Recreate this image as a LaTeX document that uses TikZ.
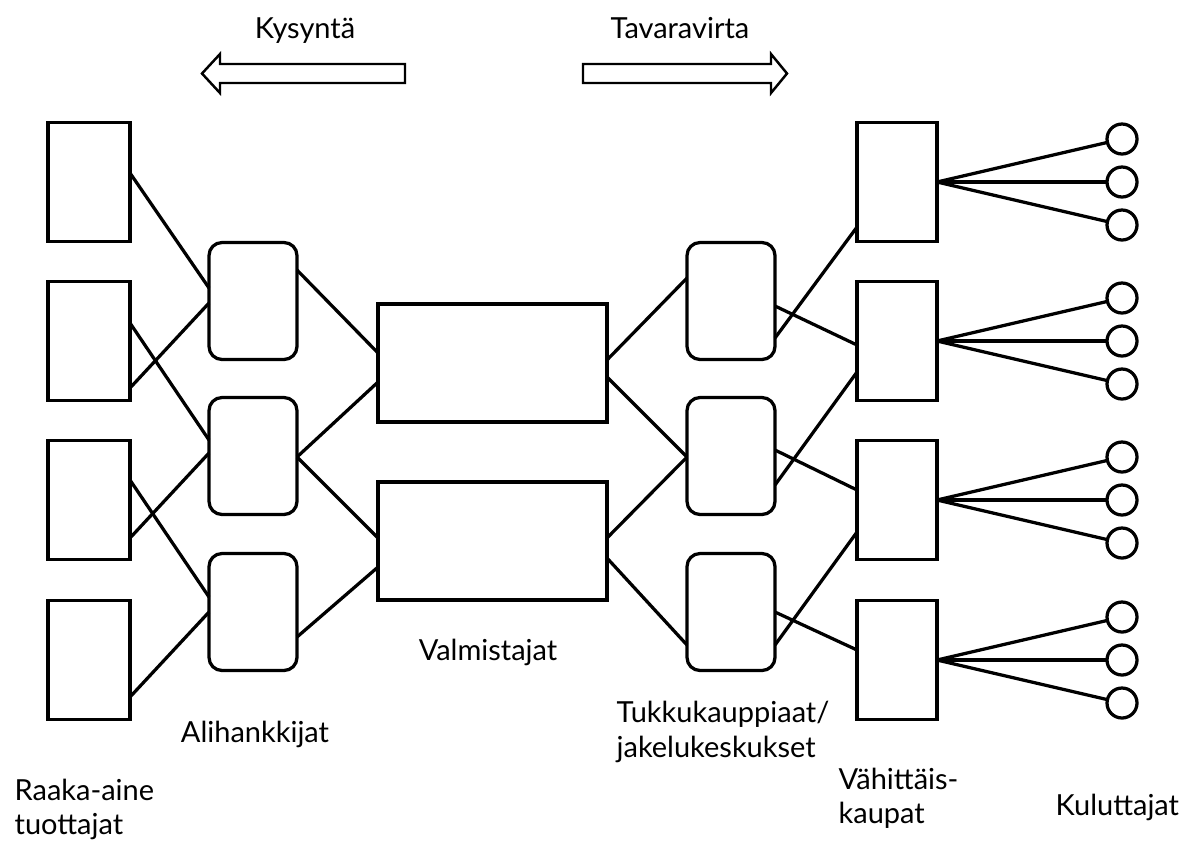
\documentclass[tikz,border=0pt]{standalone}
\usepackage{fontspec}
\setmainfont{Lato}
\usetikzlibrary{calc}
\begin{document}
\begin{tikzpicture}[x=0.02cm,y=-0.02cm,line width=1.85pt,
  sqbox/.style={draw,rectangle,inner sep=0pt,outer sep=0pt,minimum width=1.64cm,minimum height=2.38cm},
  retbox/.style={draw,rectangle,inner sep=0pt,outer sep=0pt,minimum width=1.6cm,minimum height=2.38cm},
  rndbox/.style={draw,rectangle,rounded corners=0.26cm,inner sep=0pt,outer sep=0pt,minimum width=1.76cm,minimum height=2.34cm},
  manbox/.style={draw,rectangle,inner sep=0pt,outer sep=0pt,minimum width=4.58cm,minimum height=2.36cm},
  cons/.style={draw,circle,inner sep=0pt,outer sep=0pt,minimum size=0.6cm},
  lbl/.style={anchor=base west,inner sep=0pt,font=\fontsize{16.5}{20}\selectfont},
  clbl/.style={anchor=base,inner sep=0pt,font=\fontsize{16.5}{20}\selectfont},
  blockarrow/.style={draw,line width=1.4pt,line join=miter,fill=white}]
\useasboundingbox (0,0) rectangle (1182,840);

% block arrows
\draw[blockarrow] (405,64) -- (220,64) -- (220,54) -- (202,73.5) -- (220,93) -- (220,83) -- (405,83) -- cycle;
\draw[blockarrow] (583,64) -- (771,64) -- (771,54) -- (787,73.5) -- (771,93) -- (771,83) -- (583,83) -- cycle;
\node[clbl] (kys) at (305,38) {Kysyntä};
\node[clbl] (tav) at (680,38) {Tavaravirta};

% raw material producers
\node[sqbox] (r1) at (89,182) {};
\node[sqbox] (r2) at (89,341) {};
\node[sqbox] (r3) at (89,500) {};
\node[sqbox] (r4) at (89,660) {};
% subcontractors
\node[rndbox] (s1) at (253,301) {};
\node[rndbox] (s2) at (253,456) {};
\node[rndbox] (s3) at (253,612) {};
% manufacturers
\node[manbox] (m1) at (492.5,363) {};
\node[manbox] (m2) at (492.5,541) {};
% wholesalers
\node[rndbox] (w1) at (731,301) {};
\node[rndbox] (w2) at (731,456) {};
\node[rndbox] (w3) at (731,612) {};
% retailers
\node[retbox] (t1) at (897,182) {};
\node[retbox] (t2) at (897,341) {};
\node[retbox] (t3) at (897,500) {};
\node[retbox] (t4) at (897,660) {};
% consumers
\foreach \i/\y in {1/182,2/341,3/500,4/660}{
  \node[cons] (c\i a) at (1122,\y-43) {};
  \node[cons] (c\i b) at (1122,\y) {};
  \node[cons] (c\i c) at (1122,\y+43) {};
  \draw (t\i.east) -- (c\i a);
  \draw (t\i.east) -- (c\i b);
  \draw (t\i.east) -- (c\i c);
}

% raw -> subcontractors
\draw ($(r1.east)+(0,-9)$) -- ($(s1.west)+(0,-13)$);
\draw ($(r2.east)+(0,47)$) -- ($(s1.west)+(0,2)$);
\draw ($(r2.east)+(0,-18)$) -- ($(s2.west)+(0,-16)$);
\draw ($(r3.east)+(0,38)$) -- ($(s2.west)+(0,-3)$);
\draw ($(r3.east)+(0,-20)$) -- ($(s3.west)+(0,-15)$);
\draw ($(r4.east)+(0,37)$) -- ($(s3.west)+(0,0)$);
% subcontractors -> manufacturers
\draw ($(s1.east)+(0,-31)$) -- ($(m1.west)+(0,-10)$);
\draw ($(s2.east)+(0,1)$) -- ($(m1.west)+(0,19)$);
\draw ($(s2.east)+(0,1)$) -- ($(m2.west)+(0,-3)$);
\draw ($(s3.east)+(0,25)$) -- ($(m2.west)+(0,26)$);
% manufacturers -> wholesalers
\draw ($(m1.east)+(0,-3)$) -- ($(w1.west)+(0,-23)$);
\draw ($(m1.east)+(0,14)$) -- ($(w2.west)+(0,1)$);
\draw ($(m2.east)+(0,-3)$) -- ($(w2.west)+(0,1)$);
\draw ($(m2.east)+(0,17)$) -- ($(w3.west)+(0,33)$);
% wholesalers -> retailers
\draw ($(w1.east)+(0,37)$) -- ($(t1.west)+(0,45)$);
\draw ($(w1.east)+(0,5)$) -- ($(t2.west)+(0,4)$);
\draw ($(w2.east)+(0,29)$) -- ($(t2.west)+(0,31)$);
\draw ($(w2.east)+(0,-6)$) -- ($(t3.west)+(0,-10)$);
\draw ($(w3.east)+(0,33)$) -- ($(t3.west)+(0,32)$);
\draw ($(w3.east)+(0,0)$) -- ($(t4.west)+(0,-10)$);

% labels
\node[clbl] (valm) at (488,660) {Valmistajat};
\node[clbl] (alih) at (255,742) {Alihankkijat};
\node[lbl] (raa1) at (13,800) {Raaka-aine};
\node[lbl] (raa2) at (13,834) {tuottajat};
\node[lbl] (tuk1) at (615,722) {Tukkukauppiaat/};
\node[lbl] (tuk2) at (615,757) {jakelukeskukset};
\node[lbl] (vah1) at (837,789) {Vähittäis-};
\node[lbl] (vah2) at (837,823) {kaupat};
\node[lbl] (kul) at (1054,815) {Kuluttajat};
\end{tikzpicture}
\end{document}
